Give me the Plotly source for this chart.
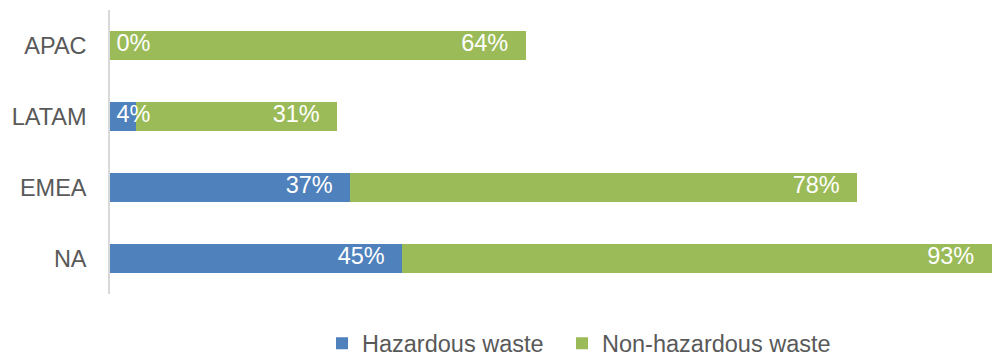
import numpy as np
import plotly.graph_objects as go

regions = ["NA", "EMEA", "LATAM", "APAC"]
hazardous = [45, 37, 4, 0]
non_hazardous = [93, 78, 31, 64]
series_names = ["Hazardous waste", "Non-hazardous waste"]

BLUE = "#4F81BD"
GREEN = "#9BBB59"
FONT = "Liberation Sans, Arial, sans-serif"
FS = 23.5
XMAX = 135.7
PAD = "\u00a0\u00a0\u2009"

haz = np.array(hazardous, dtype=float)
non = np.array(non_hazardous, dtype=float)
cum = haz + non

fig = go.Figure()
fig.add_trace(go.Bar(y=regions, x=haz, orientation="h", name=series_names[0],
                     marker=dict(color=BLUE, line=dict(width=0)), width=0.41,
                     hoverinfo="skip", legend="legend"))
fig.add_trace(go.Bar(y=regions, x=non, orientation="h", name=series_names[1],
                     marker=dict(color=GREEN, line=dict(width=0)), width=0.41,
                     hoverinfo="skip", legend="legend2"))

# data labels
small = haz < 8
haz_x = np.where(small, 0, haz)
haz_pos = np.where(small, "middle right", "middle left")
haz_txt = [("\u00a0" + f"{int(v)}%") if s else (f"{int(v)}%" + PAD) for v, s in zip(haz, small)]
fig.add_trace(go.Scatter(y=regions, x=haz_x, mode="text", text=haz_txt,
                         textposition=list(haz_pos), showlegend=False,
                         textfont=dict(color="white", size=FS, family=FONT),
                         cliponaxis=False, hoverinfo="skip"))
non_x = np.minimum(cum, XMAX)
fig.add_trace(go.Scatter(y=regions, x=non_x, mode="text",
                         text=[f"{int(v)}%" + PAD for v in non],
                         textposition="middle left", showlegend=False,
                         textfont=dict(color="white", size=FS, family=FONT),
                         cliponaxis=False, hoverinfo="skip"))

leg_common = dict(orientation="h", xref="container", xanchor="left",
                  yref="container", y=0.035, yanchor="middle",
                  font=dict(size=FS, color="#595959", family=FONT),
                  itemwidth=30, bgcolor="rgba(0,0,0,0)")

fig.update_layout(
    width=992, height=356,
    margin=dict(l=110, r=0, t=10, b=62),
    barmode="stack",
    plot_bgcolor="white", paper_bgcolor="white",
    font=dict(family=FONT, size=FS, color="#595959"),
    xaxis=dict(visible=False, range=[0, XMAX], fixedrange=True),
    yaxis=dict(showline=True, linecolor="#D9D9D9", linewidth=1.5,
               showgrid=False, ticks="", ticklabelstandoff=17,
               tickfont=dict(size=FS, color="#595959", family=FONT),
               categoryorder="array", categoryarray=regions),
    legend=dict(x=(363 - 41) / 992, **leg_common),
    legend2=dict(x=(603 - 41) / 992, **leg_common),
    showlegend=True,
)

fig.write_html("out.html")
